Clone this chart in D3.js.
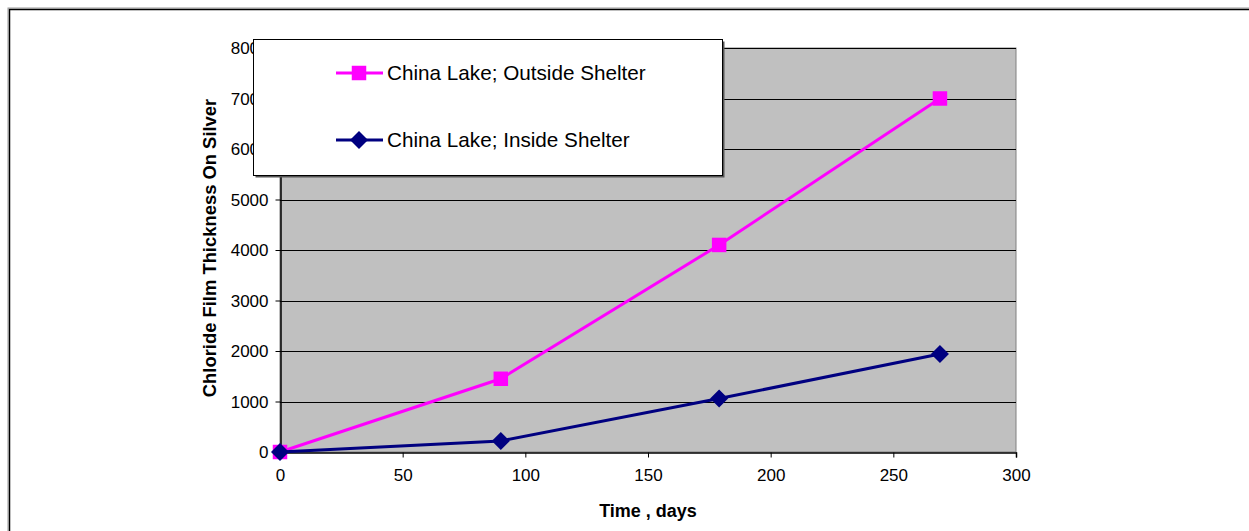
<!DOCTYPE html>
<html>
<head>
<meta charset="utf-8">
<script src="https://cdn.jsdelivr.net/npm/d3@7"></script>
<style>
  html, body { margin: 0; padding: 0; background: #fff; }
  svg { display: block; font-family: "Liberation Sans", Arial, sans-serif; }
</style>
</head>
<body>
<svg id="chart" width="1249" height="531"></svg>
<script>
// Exposure time in days
const days = [0, 90, 179, 269];
// Chloride film thickness on silver
const outsideShelter = [0, 1450, 4100, 7000];
const insideShelter = [0, 220, 1060, 1940];
const seriesNames = ["China Lake; Outside Shelter", "China Lake; Inside Shelter"];
const xTicks = [0, 50, 100, 150, 200, 250, 300];
const yTicks = [0, 1000, 2000, 3000, 4000, 5000, 6000, 7000, 8000];

const svg = d3.select("#chart");

// Outer frame
svg.append("rect").attr("x", 8).attr("y", 8).attr("width", 1300).attr("height", 600)
  .attr("fill", "none").attr("stroke", "#999").attr("stroke-width", 1);
svg.append("rect").attr("x", 9.5).attr("y", 9.5).attr("width", 1300).attr("height", 600)
  .attr("fill", "none").attr("stroke", "#000").attr("stroke-width", 1.5);

const plot = { left: 280, right: 1016, top: 48, bottom: 452 };

const x = d3.scaleLinear().domain([0, 300]).range([plot.left, plot.right]);
const y = d3.scaleLinear().domain([0, 8000]).range([plot.bottom, plot.top]);

// Plot background
svg.append("rect")
  .attr("x", plot.left).attr("y", plot.top)
  .attr("width", plot.right - plot.left).attr("height", plot.bottom - plot.top)
  .attr("fill", "#C0C0C0").attr("stroke", "#808080").attr("stroke-width", 1);

// Horizontal gridlines
svg.append("g").selectAll("line")
  .data(yTicks.filter(v => v > 0))
  .join("line")
  .attr("x1", plot.left).attr("x2", plot.right)
  .attr("y1", d => Math.round(y(d)) + 0.5).attr("y2", d => Math.round(y(d)) + 0.5)
  .attr("stroke", "#000").attr("stroke-width", 1);

// Axes
const xAxis = svg.append("g")
  .attr("transform", `translate(0,${plot.bottom + 0.5})`)
  .call(d3.axisBottom(x).tickValues(xTicks).tickSize(5).tickPadding(8).tickFormat(d3.format("d")));
const yAxis = svg.append("g")
  .attr("transform", `translate(${plot.left + 0.5},0)`)
  .call(d3.axisLeft(y).tickValues(yTicks).tickSize(5).tickPadding(7).tickFormat(d3.format("d")));

[xAxis, yAxis].forEach(g => {
  g.attr("font-size", null).attr("font-family", null);
  g.select(".domain").attr("stroke", "#000").attr("stroke-width", 1.5);
  g.selectAll(".tick line").attr("stroke", "#000");
  g.selectAll(".tick text")
    .attr("fill", "#000")
    .style("font-family", "'Liberation Sans', Arial, sans-serif")
    .style("font-size", "17px");
});
xAxis.selectAll(".tick text").attr("dy", "0.9em");
yAxis.selectAll(".tick text").attr("dy", "0.35em");

// Axis titles
svg.append("text")
  .attr("x", 648).attr("y", 517)
  .attr("text-anchor", "middle")
  .style("font-size", "18px").style("font-weight", "bold")
  .text("Time , days");
svg.append("text")
  .attr("transform", "translate(216,248) rotate(-90)")
  .attr("text-anchor", "middle")
  .style("font-size", "18.4px").style("font-weight", "bold")
  .text("Chloride Film Thickness On Silver");

const line = d3.line().x(d => x(d[0])).y(d => y(d[1]));
const outsidePts = days.map((d, i) => [d, outsideShelter[i]]);
const insidePts = days.map((d, i) => [d, insideShelter[i]]);

const pink = "#FF00FF", navy = "#000080";
const square = d3.symbol().type(d3.symbolSquare).size(210);
const diamond = size => `M0,${-size}L${size},0L0,${size}L${-size},0Z`;

// Outside shelter series
svg.append("path").datum(outsidePts).attr("d", line)
  .attr("fill", "none").attr("stroke", pink).attr("stroke-width", 3);
svg.append("g").selectAll("path").data(outsidePts).join("path")
  .attr("transform", d => `translate(${x(d[0])},${y(d[1])})`)
  .attr("d", square).attr("fill", pink);

// Inside shelter series
svg.append("path").datum(insidePts).attr("d", line)
  .attr("fill", "none").attr("stroke", navy).attr("stroke-width", 3);
svg.append("g").selectAll("path").data(insidePts).join("path")
  .attr("transform", d => `translate(${x(d[0])},${y(d[1])})`)
  .attr("d", diamond(9)).attr("fill", navy);

// Legend
const legend = svg.append("g");
legend.append("rect").attr("x", 255.5).attr("y", 41.5).attr("width", 469).attr("height", 136)
  .attr("fill", "#555");
legend.append("rect").attr("x", 253.5).attr("y", 39.5).attr("width", 469).attr("height", 136)
  .attr("fill", "#fff").attr("stroke", "#000").attr("stroke-width", 1);

const legendRows = [
  { name: seriesNames[0], color: pink, y: 73, shape: square },
  { name: seriesNames[1], color: navy, y: 140, shape: diamond(9) }
];
legendRows.forEach(r => {
  legend.append("line").attr("x1", 336).attr("x2", 383).attr("y1", r.y).attr("y2", r.y)
    .attr("stroke", r.color).attr("stroke-width", 3);
  legend.append("path").attr("transform", `translate(359,${r.y})`).attr("d", r.shape).attr("fill", r.color);
  legend.append("text").attr("x", 387).attr("y", r.y).attr("dy", "0.35em")
    .style("font-size", "20.7px").attr("fill", "#000").text(r.name);
});
</script>
</body>
</html>
